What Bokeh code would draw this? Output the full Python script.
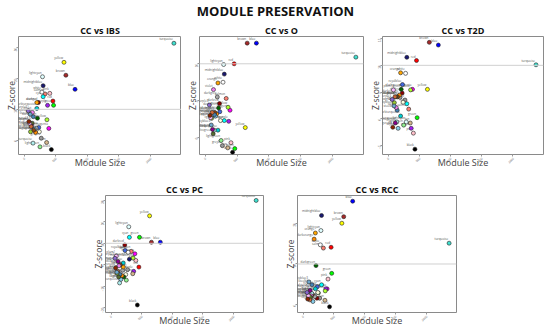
from math import pi
from bokeh.plotting import figure
from bokeh.layouts import column, row
from bokeh.models import Span, ColumnDataSource, Spacer, FixedTicker
from bokeh.embed import file_html
from bokeh.resources import INLINE
from bokeh.core.properties import value

# ---------------- data ----------------
modules = ["turquoise", "blue", "brown", "yellow", "green", "red", "black", "pink",
           "magenta", "purple", "greenyellow", "tan", "salmon", "cyan", "midnightblue",
           "lightcyan", "grey60", "lightgreen", "lightyellow", "royalblue", "darkred",
           "darkgreen", "darkturquoise", "darkgrey", "orange", "darkorange", "white",
           "skyblue", "saddlebrown", "steelblue", "paleturquoise", "violet",
           "darkolivegreen", "darkmagenta", "sienna3", "yellowgreen", "skyblue3",
           "plum1", "orangered4", "mediumpurple3"]

module_colors = ["#40E0D0", "#0000FF", "#A52A2A", "#FFFF00", "#00FF00", "#FF0000", "#000000",
                 "#FFC0CB", "#FF00FF", "#A020F0", "#ADFF2F", "#D2B48C", "#FA8072", "#00FFFF",
                 "#191970", "#E0FFFF", "#999999", "#90EE90", "#FFFFE0", "#4169E1", "#8B0000",
                 "#006400", "#00CED1", "#A9A9A9", "#FFA500", "#FF8C00", "#FFFFFF", "#87CEEB",
                 "#8B4513", "#4682B4", "#AFEEEE", "#EE82EE", "#556B2F", "#8B008B", "#CD6839",
                 "#9ACD32", "#6CA6CD", "#FFBBFF", "#8B2500", "#8968CD"]

module_size = [2370, 805, 660, 630, 465, 455, 430, 405, 390, 370, 360, 355, 330, 300, 300,
               290, 270, 250, 240, 230, 225, 210, 200, 190, 200, 180, 280, 160, 150, 145,
               140, 130, 125, 115, 110, 100, 95, 85, 75, 65]

z_ibs = [31.5, 16.5, 21.1, 25.3, 11.3, 12.7, -3.1, 15.2, 3.8, 11.3, 6.6, -0.8, 15.0, 14.1,
         17.7, 20.6, 0.6, -2.2, 2.7, 4.1, 12.2, 7.1, 10.3, 3.9, 12.2, 2.5, 15.6, 3.5, 3.2,
         7.6, -1.0, 9.0, 5.5, 4.6, 4.4, 2.7, 8.4, 5.5, 6.0, 9.5]

z_o = [10.9, 12.8, 12.8, 1.35, -1.5, 10.0, -2.0, -0.7, 3.7, 2.2, 4.1, -1.4, 5.3, 2.3, 8.6,
       9.9, -1.1, -0.4, 2.3, 3.5, 4.6, 4.0, 1.0, 5.5, 7.4, 3.2, 7.5, 2.9, 3.4, 3.1, 1.0, 6.5,
       0.5, 1.1, 3.4, 2.6, 1.7, 2.7, 3.0, 4.4]

z_t2d = [10.1, 13.8, 14.3, 5.5, 0.2, 10.9, -5.7, -2.7, 5.5, -1.8, 5.4, -0.8, 1.8, 2.8, 11.5,
         -0.6, 3.5, -1.2, 3.1, 6.4, 4.8, 5.5, 0.5, 4.0, 8.6, 4.4, 8.5, -1.8, 4.1, 1.6, -0.6,
         2.1, 4.1, -0.8, 4.1, 3.0, 2.4, 5.4, -1.6, 3.6]

z_pc = [30.0, 10.5, 10.5, 22.8, 12.8, -1.1, -18.8, 2.0, 5.1, -3.1, 3.1, -4.2, 6.2, 12.8, 2.6,
        17.7, -2.3, -7.2, -4.6, 6.6, 9.2, -5.7, 0.8, -2.6, -1.1, -5.1, 5.8, -6.9, 0.0, -4.6,
        -8.5, -0.5, -5.7, 1.5, -3.0, -4.0, -3.5, 4.0, -1.5, 3.0]

z_rcc = [15.1, 25.4, 21.6, 20.0, 7.7, 14.1, -0.5, 6.3, 3.9, 3.9, 3.4, 1.1, 13.9, 4.9, 21.9,
         18.2, 1.6, 2.9, 3.0, 4.4, 1.6, 9.6, 3.9, 2.0, 17.6, 16.1, 14.7, 0.8, 2.5, 4.9, 2.8,
         2.2, 1.8, 3.5, 1.2, 2.1, 5.6, 2.2, 1.4, 3.0]

titles = ["CC vs IBS", "CC vs O", "CC vs T2D", "CC vs PC", "CC vs RCC"]
y_ranges = [(-4.7, 33.7), (-2.3, 13.7), (-6.7, 15.4), (-22.3, 32.3), (-1.9, 26.8)]
y_ticks = [[0, 10, 20, 30], [0, 5, 10], [-5, 0, 5, 10, 15], [-20, -10, 0, 10, 20, 30], [0, 10, 20]]
x_ticks = [0, 500, 1000, 1500, 2000]
x_range = (-90, 2490)
threshold = 10

FONT = "Open Sans"


def panel(title, z, yr, yt, width, height, bl, br, bt, bb):
    p = figure(width=width, height=height, x_range=x_range, y_range=yr,
               output_backend="svg", toolbar_location=None,
               min_border_left=bl, min_border_right=br,
               min_border_top=bt, min_border_bottom=bb)
    p.title.text = title
    p.title.align = "center"
    p.title.text_font = FONT
    p.title.text_font_size = "9px"
    p.title.text_font_style = "bold"
    p.title.text_color = "#111111"
    p.title.standoff = 0
    p.grid.visible = False
    p.outline_line_color = "#8a8a8a"
    p.outline_line_width = 1
    p.background_fill_color = "white"
    p.border_fill_color = "white"

    for ax in (p.xaxis[0], p.yaxis[0]):
        ax.axis_line_color = None
        ax.major_tick_line_color = "#999999"
        ax.major_tick_in = 0
        ax.major_tick_out = 2
        ax.minor_tick_line_color = None
        ax.major_label_text_font_size = "3px"
        ax.major_label_text_color = "#666666"
        ax.major_label_standoff = 1
        ax.axis_label_text_font = FONT
        ax.axis_label_text_font_style = "normal"
        ax.axis_label_text_color = "#444444"

    p.xaxis.axis_label_text_font_size = "9px"
    p.yaxis.axis_label_text_font_size = "8.5px"
    p.xaxis.ticker = FixedTicker(ticks=x_ticks)
    p.yaxis.ticker = FixedTicker(ticks=yt)
    p.xaxis.major_label_orientation = pi / 4
    p.yaxis.major_label_orientation = pi / 2
    p.xaxis.axis_label = "Module Size"
    p.yaxis.axis_label = "Z-score"
    p.xaxis.axis_label_standoff = -11
    p.yaxis.axis_label_standoff = -7

    p.add_layout(Span(location=threshold, dimension="width",
                      line_color="#d0d0d0", line_width=1))

    src = ColumnDataSource(dict(x=module_size, y=z, c=module_colors, n=modules))
    p.text(x="x", y="y", text="n", source=src, text_font=value(FONT),
           text_font_size="3px", text_color="#555555", text_align="right",
           text_baseline="bottom", x_offset=-1, y_offset=-2)
    p.scatter(x="x", y="y", source=src, size=4, fill_color="c",
              line_color="#222222", line_width=0.6)
    return p


head = figure(width=549, height=21, x_range=(0, 549), y_range=(0, 21),
              output_backend="svg", toolbar_location=None, min_border=0)
head.axis.visible = False
head.grid.visible = False
head.outline_line_color = None
head.text(x=[275], y=[10.5], text=["MODULE PRESERVATION"], text_font=value(FONT),
          text_font_size="13px", text_font_style="bold", text_color="#111111",
          text_align="center", text_baseline="middle")

p1 = panel(titles[0], z_ibs, y_ranges[0], y_ticks[0], 181, 151, 18, 0, 14, 18)
p2 = panel(titles[1], z_o, y_ranges[1], y_ticks[1], 183, 151, 18, 1, 14, 18)
p3 = panel(titles[2], z_t2d, y_ranges[2], y_ticks[2], 184, 151, 18, 5, 14, 18)
p4 = panel(titles[3], z_pc, y_ranges[3], y_ticks[3], 192, 158, 18, 16, 23, 17)
p5 = panel(titles[4], z_rcc, y_ranges[4], y_ticks[4], 181, 158, 18, 4, 23, 17)

layout = column(head,
                row(p1, p2, p3),
                row(Spacer(width=87, height=158), p4, p5))

open("out.html", "w").write(file_html(layout, INLINE))
